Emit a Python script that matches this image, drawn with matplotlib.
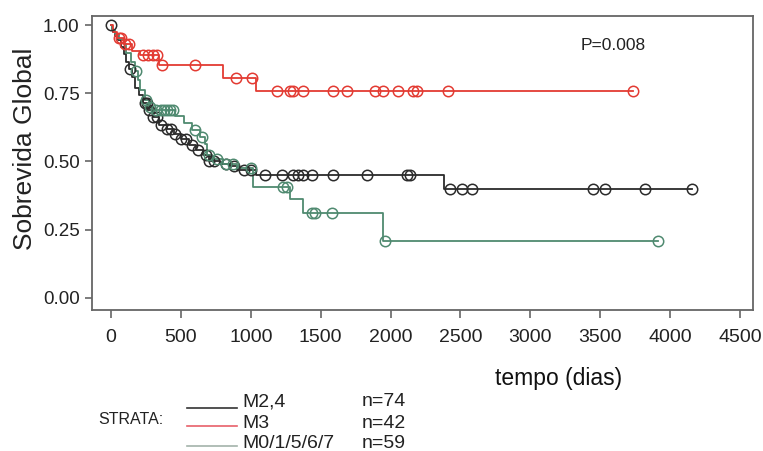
import numpy as np
import matplotlib
matplotlib.use("Agg")
import matplotlib.pyplot as plt
from matplotlib.lines import Line2D

plt.rcParams['font.family'] = ['Liberation Sans', 'DejaVu Sans']

# ---- data ----
strata_labels = ["M2,4", "M3", "M0/1/5/6/7"]
strata_n = ["n=74", "n=42", "n=59"]

# black: M2,4
black_t = [0, 5, 15, 30, 50, 70, 90, 110, 130, 150, 175, 200, 230, 260, 300, 340,
           400, 450, 500, 560, 610, 660, 700, 780, 850, 900, 1040, 2380]
black_s = [1.0, 0.986, 0.973, 0.959, 0.946, 0.92, 0.892, 0.865, 0.838, 0.81, 0.77,
           0.743, 0.716, 0.689, 0.662, 0.635, 0.618, 0.60, 0.581, 0.562, 0.543,
           0.523, 0.503, 0.49, 0.485, 0.47, 0.45, 0.40]
black_end = 4154
black_cens = [3, 136, 240, 255, 270, 300, 330, 360, 400, 430, 460, 500, 540, 580,
              620, 680, 700, 740, 820, 880, 950, 1000, 1101, 1221, 1304, 1340,
              1376, 1438, 1590, 1831, 2117, 2139, 2425, 2508, 2580, 3450, 3534,
              3820, 4154]

# red: M3
red_t = [0, 15, 40, 90, 150, 210, 340, 800, 1040]
red_s = [1.0, 0.976, 0.952, 0.929, 0.905, 0.89, 0.855, 0.805, 0.758]
red_end = 3736
red_cens = [60, 75, 100, 130, 229, 265, 300, 329, 363, 601, 892, 1011, 1185, 1280,
            1304, 1376, 1590, 1686, 1888, 1948, 2055, 2162, 2186, 2413, 3736]

# green: M0/1/5/6/7
green_t = [0, 10, 30, 60, 90, 110, 140, 170, 190, 210, 240, 270, 300, 460, 520,
           580, 640, 670, 690, 720, 800, 900, 1018, 1280, 1376, 1943]
green_s = [1.0, 0.983, 0.966, 0.949, 0.932, 0.898, 0.864, 0.83, 0.80, 0.763,
           0.727, 0.70, 0.69, 0.665, 0.64, 0.615, 0.59, 0.565, 0.525, 0.51,
           0.49, 0.475, 0.408, 0.361, 0.313, 0.209]
green_end = 3915
green_cens = [180, 250, 280, 320, 360, 380, 400, 420, 440, 600, 650, 700, 760,
              820, 870, 1000, 1231, 1259, 1436, 1459, 1578, 1960, 3915]

xticks = [0, 500, 1000, 1500, 2000, 2500, 3000, 3500, 4000, 4500]
yticks = [0.0, 0.25, 0.5, 0.75, 1.0]

c_black = '#2b2b2b'
c_red = '#e33b33'
c_green = '#4f8a70'

fig = plt.figure(figsize=(7.63, 4.51), dpi=100)
ax = fig.add_axes([92/763, 1-310/451, (753-92)/763, (310-16)/451])


def draw(t, s, end, cens, color):
    tt = list(t) + [end]
    ss = list(s) + [s[-1]]
    ax.step(tt, ss, where='post', color=color, lw=1.3, zorder=2)
    idx = np.searchsorted(np.array(t), np.array(cens), side='right') - 1
    cy = np.array(s)[idx]
    ax.plot(cens, cy, linestyle='none', marker='o', ms=7.5, mfc='none',
            mec=color, mew=1.1, zorder=3)


draw(black_t, black_s, black_end, black_cens, c_black)
draw(green_t, green_s, green_end, green_cens, c_green)
draw(red_t, red_s, red_end, red_cens, c_red)

ax.set_xlim(-136, 4593)
ax.set_ylim(-0.044, 1.033)
ax.set_xticks(xticks)
ax.set_xticklabels([str(v) for v in xticks], fontsize=14)
ax.set_yticks(yticks)
ax.set_yticklabels(['%.2f' % v for v in yticks], fontsize=13.5)
for sp in ax.spines.values():
    sp.set_color('#666666')
    sp.set_linewidth(1.3)
ax.tick_params(axis='x', direction='out', length=6, width=1.2, color='#666666',
               pad=8, labelcolor='#222222')
ax.tick_params(axis='y', direction='out', length=5, width=1.2, color='#666666',
               pad=4, labelcolor='#222222')

ax.text(0.788, 0.901, "P=0.008", transform=ax.transAxes, fontsize=12.5,
        ha='center', va='center', color='#222222')

fig.text(25/763, 1-149/451, "Sobrevida Global", rotation=90, fontsize=19,
         ha='center', va='center', color='#222222')
fig.text(559/763, 1-379/451, "tempo (dias)", fontsize=16.5, ha='center',
         va='center', color='#111111')

# legend
fig.text(98/763, 1-420/451, "STRATA:", fontsize=11.5, ha='left', va='center',
         color='#222222')
leg_colors = ['#333333', '#e8606a', '#a3b3aa']
rows_line = [408, 426, 446]
rows_text = [402, 423, 443]
for i in range(3):
    fig.add_artist(Line2D([187/763, 237/763], [1-rows_line[i]/451]*2,
                          transform=fig.transFigure, color=leg_colors[i], lw=1.2))
    fig.text(242/763, 1-rows_text[i]/451, strata_labels[i], fontsize=14,
             ha='left', va='center', color='#222222')
    fig.text(362/763, 1-rows_text[i]/451, strata_n[i], fontsize=14,
             ha='left', va='center', color='#222222')

fig.savefig('out.png', dpi=100)
